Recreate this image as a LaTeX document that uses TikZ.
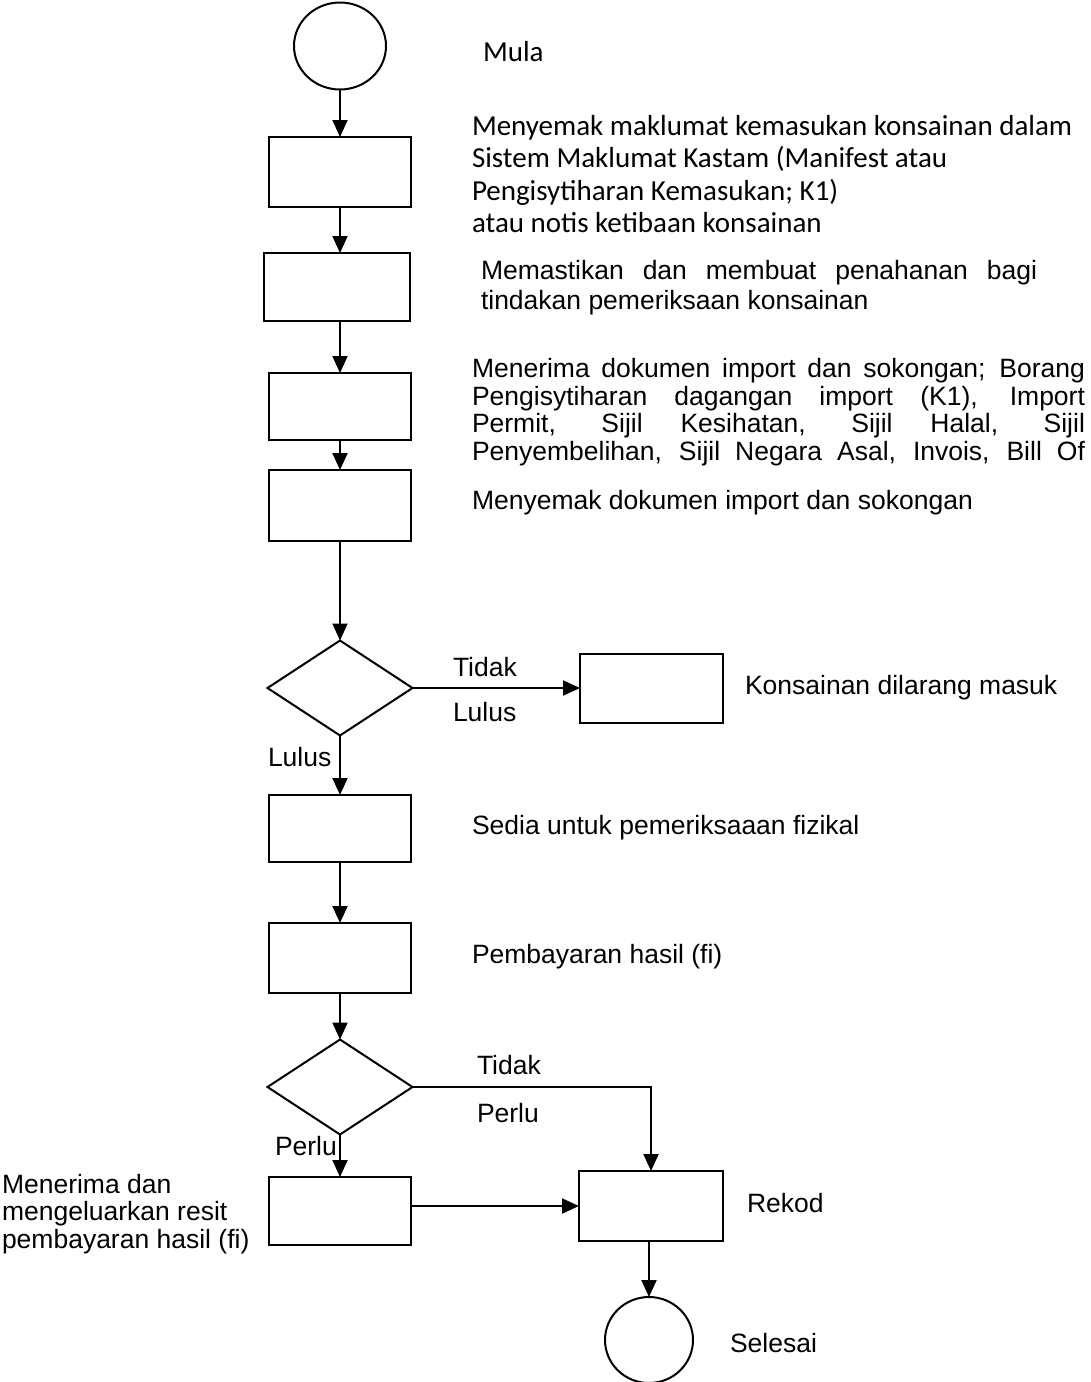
\documentclass[tikz,border=0pt]{standalone}
\usepackage{fontspec}
\setmainfont{Liberation Sans}
\newfontfamily\calfont{Carlito}
\usetikzlibrary{shapes.geometric,arrows.meta}
\begin{document}
\begin{tikzpicture}[x=1pt,y=-1pt,
  every node/.style={inner sep=0pt, outer sep=0pt},
  bx/.style={draw, line width=2pt, minimum width=142pt, minimum height=70pt},
  dm/.style={draw, diamond, line width=2pt, minimum width=145pt, minimum height=95pt},
  el/.style={draw, ellipse, line width=2pt},
  arr/.style={-{Triangle[length=17pt,width=15pt]}, line width=2pt},
  tx/.style={anchor=west, font=\fontsize{26.5}{30}\selectfont, align=left},
  cx/.style={anchor=west, font=\calfont\fontsize{29}{32.5}\selectfont, align=left}
]
\useasboundingbox (0,0) rectangle (1091,1382);
% shapes
\node[el, minimum width=92pt, minimum height=87pt] (st) at (340,46) {};
\node[bx] (b1) at (340,172) {};
\node[bx, minimum width=146pt, minimum height=68pt] (b2) at (337,287) {};
\node[bx, minimum height=67pt] (b3) at (340,406.5) {};
\node[bx, minimum height=71pt] (b4) at (340,505.5) {};
\node[dm] (d1) at (340,688) {};
\node[bx, minimum width=143pt, minimum height=69pt] (b5) at (651.5,688) {};
\node[bx, minimum height=67pt] (b6) at (340,828.5) {};
\node[bx] (b7) at (340,958) {};
\node[dm] (d2) at (340,1087) {};
\node[bx, minimum height=68pt] (b8) at (340,1211) {};
\node[bx, minimum width=144pt] (b9) at (651,1206) {};
\node[el, minimum width=88pt, minimum height=86pt] (en) at (649,1340) {};
% connectors
\draw[arr] (st) -- (b1);
\draw[arr] (b1.south) -- (b1.south |- b2.north);
\draw[arr] (b3.north |- b2.south) -- (b3.north);
\draw[arr] (b3) -- (b4);
\draw[arr] (b4) -- (d1);
\draw[arr] (d1.east) -- (b5.west);
\draw[arr] (d1) -- (b6);
\draw[arr] (b6) -- (b7);
\draw[arr] (b7) -- (d2);
\draw[arr] (d2) -- (b8);
\draw[arr] (d2.east) -| (b9.north);
\draw[arr] (b8.east |- b9.west) -- (b9.west);
\draw[arr] (en.north |- b9.south) -- (en.north);
% texts
\node[cx] (tmula) at (483,52) {Mula};
\node[cx] (t1) at (472,174) {Menyemak maklumat kemasukan konsainan dalam\\Sistem Maklumat Kastam (Manifest atau\\Pengisytiharan Kemasukan; K1)\\atau notis ketibaan konsainan};
\node[tx] (t2) at (481,288) {\makebox[556pt][s]{Memastikan dan membuat penahanan bagi}\\tindakan pemeriksaan konsainan};
\node[tx, font=\fontsize{26.5}{27.5}\selectfont] (t3) at (472,412) {\makebox[613pt][s]{Menerima dokumen import dan sokongan; Borang}\\\makebox[613pt][s]{Pengisytiharan dagangan import (K1), Import}\\\makebox[613pt][s]{Permit, Sijil Kesihatan, Sijil Halal, Sijil}\\\makebox[613pt][s]{Penyembelihan, Sijil Negara Asal, Invois, Bill Of}};
\node[tx] (t4) at (472,503) {Menyemak dokumen import dan sokongan};
\node[tx] (t5) at (745,688) {Konsainan dilarang masuk};
\node[tx] (t6) at (472,828) {Sedia untuk pemeriksaaan fizikal};
\node[tx] (t7) at (472,957) {Pembayaran hasil (fi)};
\node[tx] (t8) at (747,1203) {Rekod};
\node[tx] (t9) at (730,1343) {Selesai};
\node[tx, font=\fontsize{26.5}{27.5}\selectfont] (t10) at (2,1214) {Menerima dan\\mengeluarkan resit\\pembayaran hasil (fi)};
% edge labels
\node[tx] (l1) at (453,667) {Tidak};
\node[tx] (l2) at (453,712) {Lulus};
\node[tx] (l3) at (268,757) {Lulus};
\node[tx] (l4) at (477,1065) {Tidak};
\node[tx] (l5) at (477,1113) {Perlu};
\node[tx] (l6) at (275,1146) {Perlu};
\end{tikzpicture}
\end{document}
